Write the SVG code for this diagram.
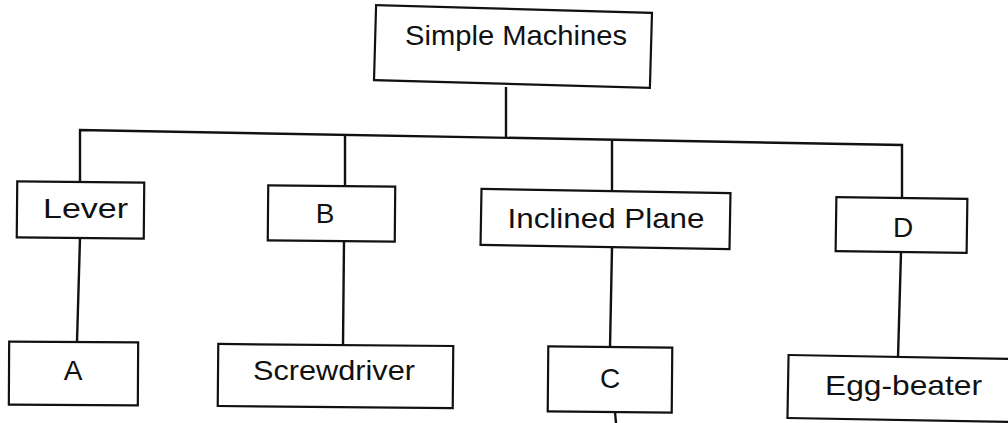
<svg xmlns="http://www.w3.org/2000/svg" width="1008" height="423" viewBox="0 0 1008 423">
<style>
.box{fill:#fff;stroke:#111;stroke-width:2.2}
.lbl{font-family:"Liberation Sans",Arial,sans-serif;font-size:28px;fill:#111;text-anchor:middle}
.con{fill:none;stroke:#111;stroke-width:2.4}
</style>
<rect width="1008" height="423" fill="#fff"/>
<g id="connectors">
<line class="con" x1="506" y1="87" x2="506" y2="137"/>
<polyline class="con" points="80,182 80,130 902,145 902,198"/>
<line class="con" x1="345" y1="136" x2="345" y2="186"/>
<line class="con" x1="612" y1="140" x2="612" y2="191"/>
<line class="con" x1="80" y1="238" x2="77" y2="342"/>
<line class="con" x1="344" y1="241" x2="343" y2="345"/>
<line class="con" x1="612" y1="248" x2="610" y2="348"/>
<line class="con" x1="901" y1="252" x2="898" y2="358"/>
<line class="con" x1="615" y1="412" x2="616" y2="423"/>
</g>
<g id="root">
<rect class="box" x="375" y="9" width="276" height="75" transform="rotate(1.6 513 46.5)"/>
<text class="lbl" x="516" y="45" textLength="222" lengthAdjust="spacingAndGlyphs">Simple Machines</text>
</g>
<g id="lever">
<rect class="box" x="17" y="182" width="127" height="56" transform="rotate(0.5 80 210)"/>
<text class="lbl" x="85.5" y="218" textLength="85" lengthAdjust="spacingAndGlyphs">Lever</text>
</g>
<g id="b">
<rect class="box" x="268" y="186" width="127" height="55" transform="rotate(0.5 331 213)"/>
<text class="lbl" x="325" y="223">B</text>
</g>
<g id="inclined-plane">
<rect class="box" x="481" y="191" width="249" height="56" transform="rotate(1 605 219)"/>
<text class="lbl" x="606" y="228" textLength="197" lengthAdjust="spacingAndGlyphs">Inclined Plane</text>
</g>
<g id="d">
<rect class="box" x="836" y="198" width="131" height="54" transform="rotate(0.8 901 225)"/>
<text class="lbl" x="903" y="237">D</text>
</g>
<g id="a">
<rect class="box" x="9" y="342" width="129" height="63" transform="rotate(0.3 73 373)"/>
<text class="lbl" x="73" y="380">A</text>
</g>
<g id="screwdriver">
<rect class="box" x="218" y="345" width="235" height="62" transform="rotate(0.5 335 376)"/>
<text class="lbl" x="334" y="380" textLength="162" lengthAdjust="spacingAndGlyphs">Screwdriver</text>
</g>
<g id="c">
<rect class="box" x="548" y="347" width="124" height="65" transform="rotate(0.5 610 380)"/>
<text class="lbl" x="610" y="388">C</text>
</g>
<g id="egg-beater">
<rect class="box" x="788" y="357" width="232" height="63" transform="rotate(1 903 388)"/>
<text class="lbl" x="903.5" y="395" textLength="157" lengthAdjust="spacingAndGlyphs">Egg-beater</text>
</g>
</svg>
